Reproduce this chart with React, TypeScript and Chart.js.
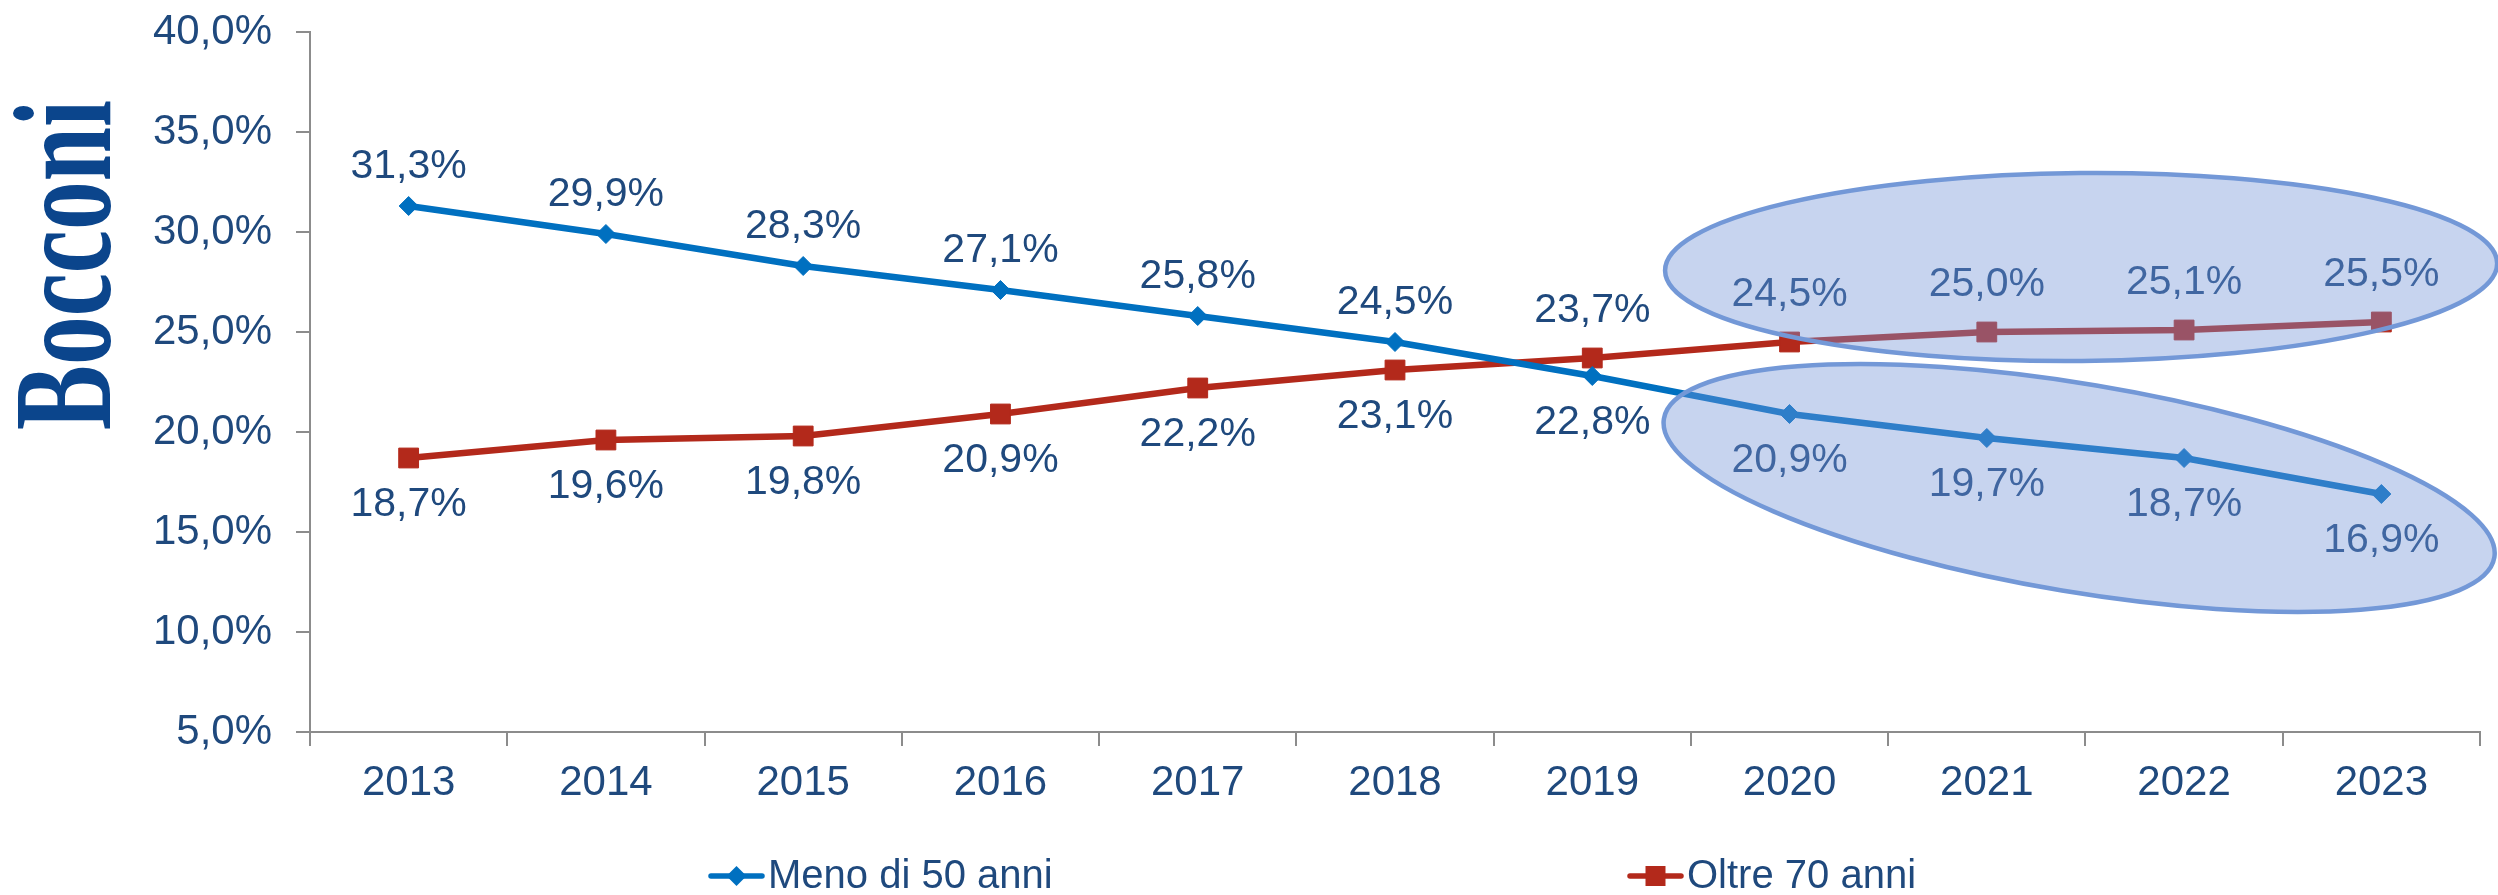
import React, { useEffect, useRef } from 'react';
import { Chart, registerables } from 'chart.js';

Chart.register(...registerables);

// ---------- data ----------
const YEARS = ['2013', '2014', '2015', '2016', '2017', '2018', '2019', '2020', '2021', '2022', '2023'];
const MENO_50 = [31.3, 29.9, 28.3, 27.1, 25.8, 24.5, 22.8, 20.9, 19.7, 18.7, 16.9];
const OLTRE_70 = [18.7, 19.6, 19.8, 20.9, 22.2, 23.1, 23.7, 24.5, 25.0, 25.1, 25.5];
const MENO_LABEL_SIDE = ['above', 'above', 'above', 'above', 'above', 'above', 'below', 'below', 'below', 'below', 'below'];
const OLTRE_LABEL_SIDE = ['below', 'below', 'below', 'below', 'below', 'below', 'above', 'above', 'above', 'above', 'above'];
const SERIES_NAMES = ['Meno di 50 anni', 'Oltre 70 anni'];
const Y_MIN = 5;
const Y_MAX = 40;
const Y_STEP = 5;
const LOGO_TEXT = 'Bocconi';

// ---------- style ----------
const TEXT_COLOR = '#1F497D';
const BLUE = '#0070C0';
const RED = '#B3291B';
const AXIS_COLOR = '#8C8C8C';
const LOGO_COLOR = '#0B458C';
const FONT = '"Liberation Sans", Arial, sans-serif';

const fmt = (v: number) => v.toFixed(1).replace('.', ',') + '%';

// highlight ellipses, in data units (category index, value) with radii in category / value units
const HIGHLIGHTS = [
  { cx: 8.478, cy: 28.25, rx: 2.109, ry: 4.7, rotDeg: -0.5 },
  { cx: 8.468, cy: 17.2, rx: 2.134, ry: 5.2, rotDeg: 9.5 },
];

const overlayPlugin = {
  id: 'overlay',
  afterDatasetsDraw(chart: any) {
    const ctx = chart.ctx;
    const xs = chart.scales.x;
    const ys = chart.scales.y;
    // data labels
    const sides = [MENO_LABEL_SIDE, OLTRE_LABEL_SIDE];
    ctx.save();
    ctx.font = `41px ${FONT}`;
    ctx.fillStyle = TEXT_COLOR;
    ctx.textAlign = 'center';
    ctx.textBaseline = 'middle';
    chart.data.datasets.forEach((ds: any, i: number) => {
      const meta = chart.getDatasetMeta(i);
      meta.data.forEach((pt: any, j: number) => {
        const side = sides[i][j];
        const dy = side === 'above' ? (i === 0 ? -39 : -47) : 47;
        ctx.fillText(fmt(ds.data[j]), pt.x, pt.y + dy);
      });
    });
    ctx.restore();

    // ellipses
    const catW = xs.getPixelForValue(1) - xs.getPixelForValue(0);
    const unitH = Math.abs(ys.getPixelForValue(1) - ys.getPixelForValue(0));
    ctx.save();
    HIGHLIGHTS.forEach((e) => {
      const cx = xs.getPixelForValue(e.cx);
      const cy = ys.getPixelForValue(e.cy);
      ctx.beginPath();
      ctx.ellipse(cx, cy, e.rx * catW, e.ry * unitH, (e.rotDeg * Math.PI) / 180, 0, Math.PI * 2);
      ctx.fillStyle = 'rgba(116,148,216,0.4)';
      ctx.fill();
      ctx.lineWidth = 4.5;
      ctx.strokeStyle = '#7398D7';
      ctx.stroke();
    });
    ctx.restore();
  },
  afterDraw(chart: any) {
    const ctx = chart.ctx;
    // logo (vertical, reading bottom to top)
    ctx.save();
    ctx.font = 'bold 139px "Liberation Serif", serif';
    ctx.fillStyle = LOGO_COLOR;
    ctx.textAlign = 'center';
    ctx.textBaseline = 'alphabetic';
    const adv = ctx.measureText(LOGO_TEXT).width;
    const sx = 330 / adv;
    ctx.translate(110, 265);
    ctx.rotate(-Math.PI / 2);
    ctx.scale(sx, 1);
    ctx.fillText(LOGO_TEXT, 0, 0);
    ctx.restore();

    // legend
    const items = [
      { x: 708, color: BLUE, style: 'diamond', text: SERIES_NAMES[0] },
      { x: 1627, color: RED, style: 'square', text: SERIES_NAMES[1] },
    ];
    const y = 876;
    ctx.save();
    items.forEach((it) => {
      ctx.strokeStyle = it.color;
      ctx.fillStyle = it.color;
      ctx.lineWidth = 5.5;
      ctx.lineCap = 'round';
      ctx.beginPath();
      ctx.moveTo(it.x + 3, y);
      ctx.lineTo(it.x + 54, y);
      ctx.stroke();
      const mx = it.x + 28.5;
      ctx.beginPath();
      if (it.style === 'diamond') {
        ctx.moveTo(mx - 10, y);
        ctx.lineTo(mx, y - 10);
        ctx.lineTo(mx + 10, y);
        ctx.lineTo(mx, y + 10);
        ctx.closePath();
      } else {
        ctx.rect(mx - 10, y - 10, 20, 20);
      }
      ctx.fill();
      ctx.font = `40px ${FONT}`;
      ctx.fillStyle = TEXT_COLOR;
      ctx.textAlign = 'left';
      ctx.textBaseline = 'middle';
      ctx.fillText(it.text, it.x + 60, y + 1);
    });
    ctx.restore();
  },
};

export default function App() {
  const canvasRef = useRef<HTMLCanvasElement | null>(null);

  useEffect(() => {
    const canvas = canvasRef.current;
    if (!canvas) return;
    const chart = new Chart(canvas, {
      type: 'line',
      data: {
        labels: YEARS,
        datasets: [
          {
            label: SERIES_NAMES[0],
            data: MENO_50,
            borderColor: BLUE,
            backgroundColor: BLUE,
            borderWidth: 6.5,
            pointStyle: 'rectRot',
            pointRadius: 9.5,
            pointBackgroundColor: BLUE,
            pointBorderColor: BLUE,
            pointBorderWidth: 1,
            tension: 0,
            fill: false,
          },
          {
            label: SERIES_NAMES[1],
            data: OLTRE_70,
            borderColor: RED,
            backgroundColor: RED,
            borderWidth: 6.5,
            pointStyle: 'rect',
            pointRadius: 14,
            pointBackgroundColor: RED,
            pointBorderColor: RED,
            pointBorderWidth: 1,
            tension: 0,
            fill: false,
          },
        ],
      },
      options: {
        responsive: false,
        animation: false,
        devicePixelRatio: 1,
        layout: { padding: { top: 32, right: 18, left: 0, bottom: 0 } },
        plugins: {
          legend: { display: false },
          tooltip: { enabled: false },
        },
        scales: {
          x: {
            offset: true,
            grid: {
              offset: true,
              drawOnChartArea: false,
              color: AXIS_COLOR,
              lineWidth: 2,
              tickLength: 14,
            },
            border: { color: AXIS_COLOR, width: 2 },
            ticks: {
              color: TEXT_COLOR,
              font: { family: FONT, size: 42 },
              padding: 12,
              maxRotation: 0,
              autoSkip: false,
            },
            afterFit: (s: any) => {
              s.height = 163;
              s.paddingLeft = 0;
              s.paddingRight = 0;
            },
          },
          y: {
            min: Y_MIN,
            max: Y_MAX,
            grid: {
              drawOnChartArea: false,
              color: AXIS_COLOR,
              lineWidth: 2,
              tickLength: 14,
            },
            border: { color: AXIS_COLOR, width: 2 },
            ticks: {
              stepSize: Y_STEP,
              color: TEXT_COLOR,
              font: { family: FONT, size: 42 },
              padding: 24,
              callback: (v: any) => fmt(Number(v)),
            },
            afterFit: (s: any) => {
              s.width = 310;
              s.paddingTop = 0;
              s.paddingBottom = 0;
            },
          },
        },
      },
      plugins: [overlayPlugin],
    } as any);
    return () => chart.destroy();
  }, []);

  return (
    <div style={{ position: 'absolute', left: 0, top: 0, width: 2498, height: 895, background: '#fff' }}>
      <canvas ref={canvasRef} width={2498} height={895} style={{ display: 'block' }} />
    </div>
  );
}
